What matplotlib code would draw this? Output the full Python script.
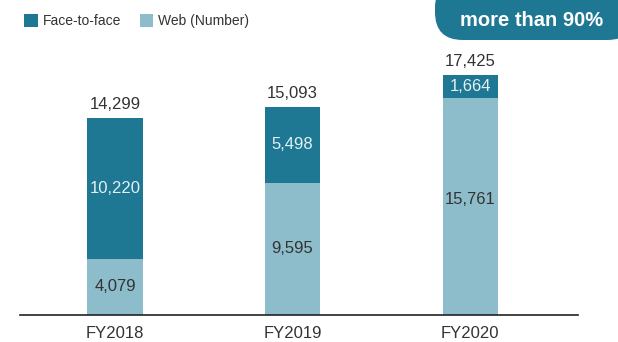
import numpy as np
import matplotlib.pyplot as plt
from matplotlib.patches import FancyBboxPatch

years = ["FY2018", "FY2019", "FY2020"]
web = [4079, 9595, 15761]
face = [10220, 5498, 1664]
totals = [14299, 15093, 17425]

DARK = "#1f7893"
LIGHT = "#8dbccb"
TEXT = "#333333"

plt.rcParams["font.family"] = ["Liberation Sans", "DejaVu Sans"]

fig = plt.figure(figsize=(6.18, 3.42), dpi=100)
ax = fig.add_axes([20 / 618, 27 / 342, 558 / 618, 315 / 342])

x = np.arange(len(years))
w = 0.31
b_web = ax.bar(x, web, w, color=LIGHT, label="Web (Number)")
b_face = ax.bar(x, face, w, bottom=web, color=DARK, label="Face-to-face")

for i in range(len(years)):
    ax.text(x[i], web[i] / 2 + (500 if web[i] > 12000 else 0), f"{web[i]:,}",
            ha="center", va="center", fontsize=12, color=TEXT)
    ax.text(x[i], web[i] + face[i] / 2, f"{face[i]:,}", ha="center", va="center",
            fontsize=12, color="#e4f0f4")
    ax.text(x[i], totals[i] + 450, f"{totals[i]:,}", ha="center", va="bottom",
            fontsize=12, color=TEXT)

ax.set_xlim(-0.535, 2.608)
ax.set_ylim(0, 22860)
ax.set_xticks(x)
ax.set_xticklabels(years, fontsize=12, color=TEXT)
ax.tick_params(axis="x", length=0, pad=8)
ax.set_yticks([])
for s in ["top", "right", "left"]:
    ax.spines[s].set_visible(False)
ax.spines["bottom"].set_color("#222222")
ax.spines["bottom"].set_linewidth(1.2)

ax.legend(handles=[b_face, b_web], loc="upper left", ncol=2, frameon=False,
          fontsize=10, handlelength=1.0, handleheight=1.0, handletextpad=0.35,
          columnspacing=1.3, bbox_to_anchor=(-0.012, 0.99),
          labelcolor=TEXT, borderaxespad=0.4)

# badge in the top-right corner
badge = FancyBboxPatch((435 / 618, 302 / 342), 200 / 618, 60 / 342,
                       boxstyle="round,pad=0,rounding_size=0.045",
                       transform=fig.transFigure, facecolor=DARK,
                       edgecolor="none", mutation_aspect=618 / 342)
fig.patches.append(badge)
fig.text(532 / 618, 322 / 342, "more than 90%", ha="center", va="center",
         fontsize=14.5, fontweight="bold", color="white")

fig.savefig("out.png", dpi=100)
